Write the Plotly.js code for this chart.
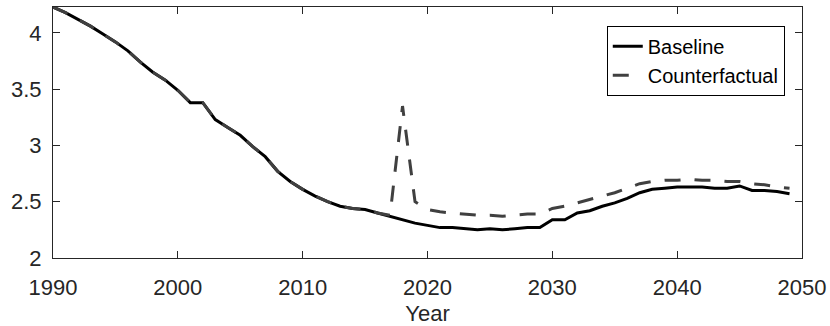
<!DOCTYPE html>
<html>
<head>
<meta charset="utf-8">
<script src="https://cdn.plot.ly/plotly-3.0.1.min.js"></script>
<style>html,body{margin:0;padding:0;background:#fff;}#chart{width:830px;height:326px;}</style>
</head>
<body>
<div id="chart"></div>
<script>
const years = [];
for (let y = 1990; y <= 2049; y++) years.push(y);

const baseline = [
  4.23, 4.18, 4.12, 4.06, 3.99, 3.92, 3.84, 3.74, 3.65, 3.58,
  3.49, 3.38, 3.38, 3.23, 3.16, 3.09, 2.99, 2.90, 2.77, 2.68,
  2.61, 2.55, 2.50, 2.46, 2.44, 2.43, 2.40, 2.37, 2.34, 2.31,
  2.29, 2.27, 2.27, 2.26, 2.25, 2.26, 2.25, 2.26, 2.27, 2.27,
  2.34, 2.34, 2.40, 2.42, 2.46, 2.49, 2.53, 2.58, 2.61, 2.62,
  2.63, 2.63, 2.63, 2.62, 2.62, 2.64, 2.60, 2.60, 2.59, 2.57
];

const counterfactual = [
  4.23, 4.18, 4.12, 4.06, 3.99, 3.92, 3.84, 3.74, 3.65, 3.58,
  3.49, 3.38, 3.38, 3.23, 3.16, 3.09, 2.99, 2.90, 2.77, 2.68,
  2.61, 2.55, 2.50, 2.46, 2.44, 2.43, 2.40, 2.38, 3.35, 2.50,
  2.43, 2.41, 2.40, 2.39, 2.38, 2.38, 2.37, 2.38, 2.39, 2.39,
  2.44, 2.46, 2.49, 2.52, 2.55, 2.58, 2.62, 2.66, 2.68, 2.69,
  2.69, 2.70, 2.69, 2.69, 2.68, 2.68, 2.66, 2.65, 2.63, 2.62
];

const seriesNames = ['Baseline', 'Counterfactual'];
const xTicks = [1990, 2000, 2010, 2020, 2030, 2040, 2050];
const yTicks = [2, 2.5, 3, 3.5, 4];
const yTickLabels = ['2', '2.5', '3', '3.5', '4'];

const axisColor = '#262626';
const fam = 'Liberation Sans, Arial, Helvetica, sans-serif';

const traces = [
  {x: years, y: baseline, name: seriesNames[0], type: 'scatter', mode: 'lines',
   line: {color: '#000000', width: 3}},
  {x: years, y: counterfactual, name: seriesNames[1], type: 'scatter', mode: 'lines',
   line: {color: '#404040', width: 3, dash: '16px,14px'}}
];

const layout = {
  width: 830, height: 326,
  margin: {l: 52.5, r: 28, t: 7, b: 68},
  paper_bgcolor: '#ffffff', plot_bgcolor: '#ffffff',
  font: {family: fam, size: 20, color: axisColor},
  showlegend: true,
  legend: {
    x: 0.977, y: 0.925, xanchor: 'right', yanchor: 'top',
    bgcolor: '#ffffff', bordercolor: '#000000', borderwidth: 1,
    font: {family: fam, size: 20, color: '#000000'},
    itemwidth: 30, tracegroupgap: 0
  },
  xaxis: {
    range: [1990, 2050], tickvals: xTicks, ticktext: xTicks.map(String),
    ticks: 'inside', ticklen: 7, tickcolor: axisColor, tickwidth: 1,
    showline: true, linecolor: axisColor, linewidth: 1, mirror: 'ticks',
    showgrid: false, zeroline: false, ticklabelstandoff: 10,
    tickfont: {family: fam, size: 22, color: axisColor},
    title: {text: 'Year', font: {family: fam, size: 22, color: axisColor}, standoff: 10}
  },
  yaxis: {
    range: [2, 4.23], tickvals: yTicks, ticktext: yTickLabels,
    ticks: 'inside', ticklen: 7, tickcolor: axisColor, tickwidth: 1,
    showline: true, linecolor: axisColor, linewidth: 1, mirror: 'ticks',
    showgrid: false, zeroline: false, ticklabelstandoff: 6,
    tickfont: {family: fam, size: 22, color: axisColor}
  }
};

Plotly.newPlot('chart', traces, layout, {staticPlot: true, displayModeBar: false});
</script>
</body>
</html>
